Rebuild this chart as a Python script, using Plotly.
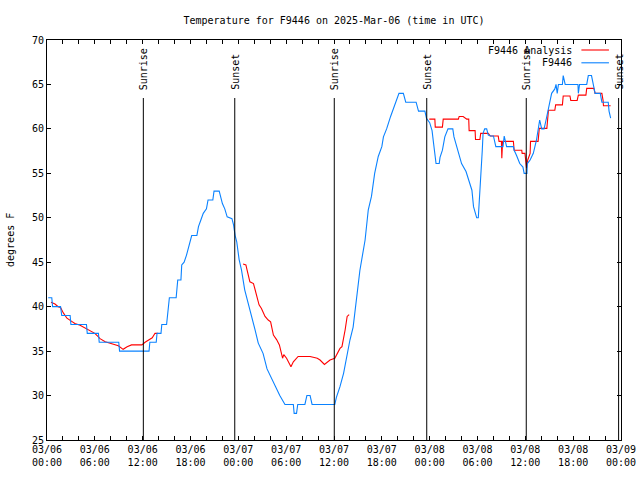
import plotly.graph_objects as go
import pandas as pd

START = pd.Timestamp("2025-03-06 00:00")

# Observations (F9446): hours since 2025-03-06 00:00 UTC, degrees F
obs_hours = [0.15, 0.6, 0.7, 1.7, 1.85, 2.9, 3.0, 4.95, 5.05, 6.45,
             6.55, 9.0, 9.1, 12.8, 12.9, 13.7, 13.8, 14.3, 14.4, 15.0,
             15.35, 16.2, 16.4, 16.8, 16.9, 17.2, 17.5, 17.9, 18.15, 18.8,
             19.0, 19.3, 19.6, 20.0, 20.2, 20.8, 20.95, 21.6, 22.0, 22.3,
             22.6, 23.2, 23.4, 23.6, 23.8, 24.1, 24.4, 24.8, 25.25, 25.7,
             26.1, 26.5, 27.1, 27.6, 28.1, 28.7, 29.2, 29.85, 30.9, 31.0,
             31.3, 31.45, 32.35, 32.6, 33.0, 33.25, 36.1, 36.3, 36.75, 37.2,
             37.5, 38.0, 38.4, 38.75, 39.05, 39.25, 39.9, 40.3, 40.7, 41.1,
             41.55, 42.0, 42.2, 42.6, 43.1, 43.4, 43.8, 44.15, 44.7, 45.0,
             46.3, 46.6, 47.4, 47.6, 48.0, 48.3, 48.5, 48.8, 49.2, 49.3,
             49.6, 49.9, 50.3, 50.9, 51.05, 51.3, 51.7, 52.0, 52.56, 52.85,
             53.3, 53.5, 53.7, 53.9, 54.1, 54.45, 54.6, 54.7, 54.9, 55.15,
             55.35, 55.65, 56.0, 56.3, 57.2, 57.35, 57.65, 58.5, 58.6, 58.9,
             59.3, 59.7, 59.85, 60.2, 60.25, 60.6, 61.0, 61.4, 61.6, 61.8,
             62.05, 62.35, 62.6, 62.8, 63.0, 63.3, 63.7, 63.85, 64.0, 64.15,
             64.65, 64.75, 65.0, 66.6, 66.65, 66.8, 67.7, 67.9, 68.3, 68.5,
             68.75, 69.4, 69.6, 70.4, 70.5, 70.7]
obs_temp = [41, 41, 40, 40, 39, 39, 38, 38, 37, 37,
            36, 36, 35, 35, 36, 36, 37, 37, 38, 38,
            41, 41, 43, 43, 44.7, 45, 45.8, 47.1, 48, 48,
            49, 49.75, 50.5, 51, 52, 52, 53, 53, 51.6, 51,
            50.1, 49.9, 49.2, 48, 47.3, 45.3, 44.1, 41.9, 40.4, 39,
            37.4, 35.9, 34.75, 33, 32, 31, 30, 29, 29, 28,
            28, 29, 29, 30, 30, 29, 29, 29.8, 31, 32.5,
            34, 36.25, 37.7, 40.4, 43, 44.1, 47.5, 50.9, 52.4, 55,
            56.9, 58, 59.1, 60, 61.4, 62.1, 63.25, 64, 64, 63,
            63, 62, 62, 61.2, 60.7, 59.8, 58.3, 56.1, 56.1, 56.8,
            57.6, 59.1, 60, 60, 59.1, 58.3, 57, 56.1, 55.2, 54.3,
            53.1, 51.25, 50.5, 50, 50, 54.6, 57.6, 59.5, 60, 60,
            59.3, 59.2, 59.2, 58, 58, 59.2, 58, 58, 57.6, 57,
            56.1, 55.7, 55, 55, 56.1, 56.5, 57.25, 58.75, 60, 61,
            60, 60, 61, 61.9, 63, 64, 64.5, 65, 64, 65,
            65, 66, 65, 65, 64, 65, 65, 66, 66, 65,
            64, 64, 63, 63, 62, 61.2]

# Analysis (F9446 Analysis), three separate segments
ana1_hours = [0.5, 1.0, 1.4, 1.7, 2.05, 2.5, 3.0, 3.5, 4.15, 4.55, 5.05, 5.6, 6.0, 6.45,
              6.65, 7.3, 7.9, 8.95, 9.55, 10.05, 10.6, 11.9, 12.3, 12.9, 13.2, 13.55, 13.95]
ana1_temp = [40.5, 40.3, 40, 39.9, 39.3, 38.7, 38.4, 38.1, 37.9, 37.7, 37.4, 37.2, 37.0, 36.6,
             36.4, 36.06, 35.9, 35.6, 35.2, 35.5, 35.7, 35.7, 36.0, 36.3, 36.5, 37.0, 37.0]
ana2_hours = [24.6, 24.95, 25.1, 25.45, 25.9, 26.3, 26.6, 26.9, 27.35, 27.75, 28.05, 28.4,
              28.8, 29.15, 29.55, 29.7, 30.05, 30.6, 30.9, 31.5, 33.0, 33.9, 34.25, 34.8,
              35.5, 36.1, 36.4, 36.75, 37.0, 37.2, 37.4, 37.65, 37.9]
ana2_temp = [44.8, 44.7, 44.1, 42.8, 42.6, 41.1, 40.2, 39.8, 38.9, 38.5, 38.3, 36.8,
             36.3, 35.7, 34.2, 34.6, 34.2, 33.25, 33.8, 34.4, 34.4, 34.2, 34.0, 33.5,
             34.0, 34.2, 34.7, 35.3, 35.5, 36.4, 37.4, 38.9, 39.1]
ana3_hours = [47.95, 48.65, 48.7, 49.6, 49.7, 51.6, 51.7, 52.2, 52.65, 52.9, 52.95, 53.7,
              53.75, 54.3, 54.4, 55.35, 55.6, 56.6, 56.7, 57.0, 57.05, 57.15, 58.5, 58.6,
              59.55, 59.6, 59.95, 60.15, 60.3, 60.6, 60.65, 61.6, 61.75, 62.7, 62.9, 63.7,
              63.8, 64.65, 64.75, 65.6, 65.7, 66.5, 66.65, 67.6, 67.7, 68.6, 68.75, 69.6,
              69.75, 69.8, 70.7]
ana3_temp = [61.1, 61.1, 60.2, 60.2, 61.1, 61.1, 61.4, 61.4, 61.1, 61.1, 59.8, 59.8,
             58.8, 58.8, 59.5, 59.5, 59.2, 59.2, 58.6, 58.6, 56.7, 58.6, 58.6, 57.6,
             57.6, 57.25, 57.25, 55.6, 56.5, 57.25, 58.6, 58.6, 60.06, 60.06, 62.1, 62.1,
             62.7, 62.7, 63.7, 63.7, 63.2, 63.2, 63.8, 63.8, 64.56, 64.56, 64, 64,
             63.2, 62.6, 62.6]

sun_labels = ["Sunrise", "Sunset", "Sunrise", "Sunset", "Sunrise", "Sunset"]
sun_times = ["2025-03-06 12:05", "2025-03-06 23:33", "2025-03-07 12:02",
             "2025-03-07 23:38", "2025-03-08 12:07", "2025-03-08 23:42"]

series_names = ["F9446 Analysis", "F9446"]
series_colors = ["#ff0000", "#0a82ff"]

y_ticks = [25, 30, 35, 40, 45, 50, 55, 60, 65, 70]


def to_time(hours):
    return [None if h is None else START + pd.Timedelta(hours=h) for h in hours]


ana_hours = ana1_hours + [None] + ana2_hours + [None] + ana3_hours
ana_temp = ana1_temp + [None] + ana2_temp + [None] + ana3_temp

FONT = "DejaVu Sans Mono"

fig = go.Figure()
fig.add_trace(go.Scatter(x=to_time(ana_hours), y=ana_temp, mode="lines",
                         name=series_names[0], connectgaps=False,
                         line=dict(color=series_colors[0], width=1.1)))
fig.add_trace(go.Scatter(x=to_time(obs_hours), y=obs_temp, mode="lines",
                         name=series_names[1],
                         line=dict(color=series_colors[1], width=1.1)))

shapes = []
annotations = []
for lab, t in zip(sun_labels, sun_times):
    shapes.append(dict(type="line", xref="x", yref="paper", x0=t, x1=t, y0=0, y1=0.855,
                       line=dict(color="black", width=1)))
    annotations.append(dict(x=t, xref="x", y=0.87, yref="paper", text=lab, textangle=-90,
                            showarrow=False, xanchor="center", yanchor="bottom",
                            font=dict(family=FONT, size=10, color="black")))

# legend (text on the left, sample on the right, gnuplot style)
leg_y = [0.975, 0.943]
for name, col, yy in zip(series_names, series_colors, leg_y):
    annotations.append(dict(x=0.918, xref="paper", y=yy, yref="paper", text=name,
                            showarrow=False, xanchor="right", yanchor="middle",
                            font=dict(family=FONT, size=10, color="black")))
    shapes.append(dict(type="line", xref="paper", yref="paper", x0=0.931, x1=0.979,
                       y0=yy, y1=yy, line=dict(color=col, width=1.1)))

annotations.append(dict(x=-0.0645, xref="paper", y=0.5, yref="paper", text="degrees F",
                        textangle=-90, showarrow=False, xanchor="center", yanchor="middle",
                        font=dict(family=FONT, size=10, color="black")))

fig.update_layout(
    width=640, height=480,
    margin=dict(l=47, r=19, t=40, b=40, autoexpand=False),
    paper_bgcolor="white", plot_bgcolor="white",
    font=dict(family=FONT, size=10, color="black"),
    showlegend=False,
    title=dict(text="Temperature for F9446 on 2025-Mar-06 (time in UTC)",
               x=0.5, xref="paper", xanchor="center",
               y=1 - 20 / 480, yref="container", yanchor="middle",
               font=dict(family=FONT, size=10, color="black")),
    shapes=shapes,
    annotations=annotations,
    xaxis=dict(type="date", range=["2025-03-06 00:00", "2025-03-09 00:00"],
               tick0="2025-03-06 00:00", dtick=6 * 3600 * 1000,
               tickformat="%m/%d<br>%H:%M", automargin=False,
               ticks="inside", ticklen=4, tickcolor="black", tickwidth=1,
               showline=True, linecolor="black", linewidth=1, mirror="allticks",
               showgrid=False, zeroline=False,
               minor=dict(dtick=2 * 3600 * 1000, ticks="inside", ticklen=4,
                          tickcolor="black", showgrid=False),
               tickfont=dict(family=FONT, size=10, color="black")),
    yaxis=dict(range=[25, 70], tickvals=y_ticks, automargin=False,
               ticks="inside", ticklen=4, tickcolor="black", tickwidth=1,
               showline=True, linecolor="black", linewidth=1, mirror="allticks",
               showgrid=False, zeroline=False,
               tickfont=dict(family=FONT, size=10, color="black")),
)

fig.write_html("out.html", config={"displayModeBar": False},
               post_script="document.body.style.margin='0';document.body.style.overflow='hidden';")
